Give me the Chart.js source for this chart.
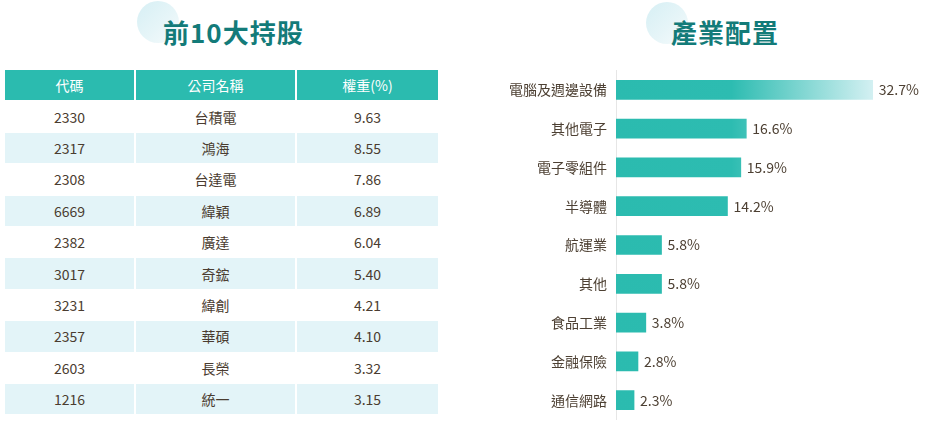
<!DOCTYPE html>
<html>
<head>
<meta charset="utf-8">
<script src="https://cdn.jsdelivr.net/npm/chart.js@4"></script>
<style>
  html, body { margin:0; padding:0; background:#fff; width:941px; height:432px; overflow:hidden; font-family:"Noto Sans CJK TC","Noto Sans",sans-serif; }
  .title { position:absolute; top:12px; font-size:26px; font-weight:700; color:#137b79; letter-spacing:1px; line-height:40px; white-space:nowrap; }
  .circle { position:absolute; width:42px; height:42px; border-radius:50%; background:linear-gradient(135deg,#d6eff4 0%,#e6f5f8 55%,#f6fbfc 100%); }
  table { position:absolute; left:3px; top:69px; border-collapse:separate; border-spacing:2px 1px; }
  th, td { height:30.4px; padding:0; text-align:center; font-size:14px; font-weight:400; }
  th { background:#2bbbaf; color:#fff; }
  td { color:#4a3c30; }
  tr.alt td { background:#e3f4f8; }
  #chartWrap { position:absolute; left:470px; top:52.5px; width:471px; height:384px; }
</style>
</head>
<body>
<div class="circle" style="left:137px;top:1px;"></div>
<div class="title" style="left:163px;">前10大持股</div>
<div class="circle" style="left:646px;top:2px;"></div>
<div class="title" style="left:671px;">產業配置</div>

<table id="tbl">
  <thead><tr><th style="width:129px">代碼</th><th style="width:159px">公司名稱</th><th style="width:141px">權重(%)</th></tr></thead>
  <tbody id="tbody"></tbody>
</table>

<div id="chartWrap"><canvas id="c"></canvas></div>

<script>
const stockCodes = ["2330","2317","2308","6669","2382","3017","3231","2357","2603","1216"];
const stockNames = ["台積電","鴻海","台達電","緯穎","廣達","奇鋐","緯創","華碩","長榮","統一"];
const stockWeights = ["9.63","8.55","7.86","6.89","6.04","5.40","4.21","4.10","3.32","3.15"];

const industries = ["電腦及週邊設備","其他電子","電子零組件","半導體","航運業","其他","食品工業","金融保險","通信網路"];
const industryValues = [32.7,16.6,15.9,14.2,5.8,5.8,3.8,2.8,2.3];

const tbody = document.getElementById('tbody');
stockCodes.forEach((code,i)=>{
  const tr = document.createElement('tr');
  if (i % 2 === 1) tr.className = 'alt';
  [code, stockNames[i], stockWeights[i]].forEach(v=>{
    const td = document.createElement('td'); td.textContent = v; tr.appendChild(td);
  });
  tbody.appendChild(tr);
});

const valueLabels = {
  id:'valueLabels',
  afterDatasetsDraw(chart){
    const ctx = chart.ctx;
    const meta = chart.getDatasetMeta(0);
    ctx.save();
    ctx.font = '14px "Noto Sans CJK TC","Noto Sans",sans-serif';
    ctx.fillStyle = '#4d4033';
    ctx.textAlign = 'left';
    ctx.textBaseline = 'middle';
    meta.data.forEach((bar,i)=>{
      ctx.fillText(industryValues[i].toFixed(1)+'%', bar.x + 6, bar.y);
    });
    ctx.restore();
  }
};

new Chart(document.getElementById('c'), {
  type:'bar',
  data:{
    labels: industries,
    datasets:[{
      data: industryValues,
      barThickness:19,
      borderWidth:0,
      backgroundColor(context){
        const chart = context.chart;
        const area = chart.chartArea;
        if (!area) return '#2bbbaf';
        const xs = chart.scales.x;
        const x0 = xs.getPixelForValue(0);
        const x1 = xs.getPixelForValue(Math.max(...industryValues));
        const g = chart.ctx.createLinearGradient(x0,0,x1,0);
        g.addColorStop(0,'#2bbbaf');
        g.addColorStop(0.45,'#2dbcb1');
        g.addColorStop(1,'#d3f0f2');
        return g;
      }
    }]
  },
  options:{
    indexAxis:'y',
    responsive:true,
    maintainAspectRatio:false,
    animation:false,
    layout:{ padding:{ top:0, bottom:0, right:11, left:0 } },
    plugins:{ legend:{display:false}, tooltip:{enabled:false} },
    scales:{
      x:{ min:0, max:40, display:false, grid:{display:false} },
      y:{
        grid:{ display:false, drawTicks:false },
        border:{ display:true, color:'#e6e6e6', width:1 },
        ticks:{ padding:9, color:'#4d4033', font:{ size:14, family:'"Noto Sans CJK TC","Noto Sans",sans-serif' } },
        afterFit(scale){ scale.width = 146; }
      }
    }
  },
  plugins:[valueLabels]
});
</script>
</body>
</html>
